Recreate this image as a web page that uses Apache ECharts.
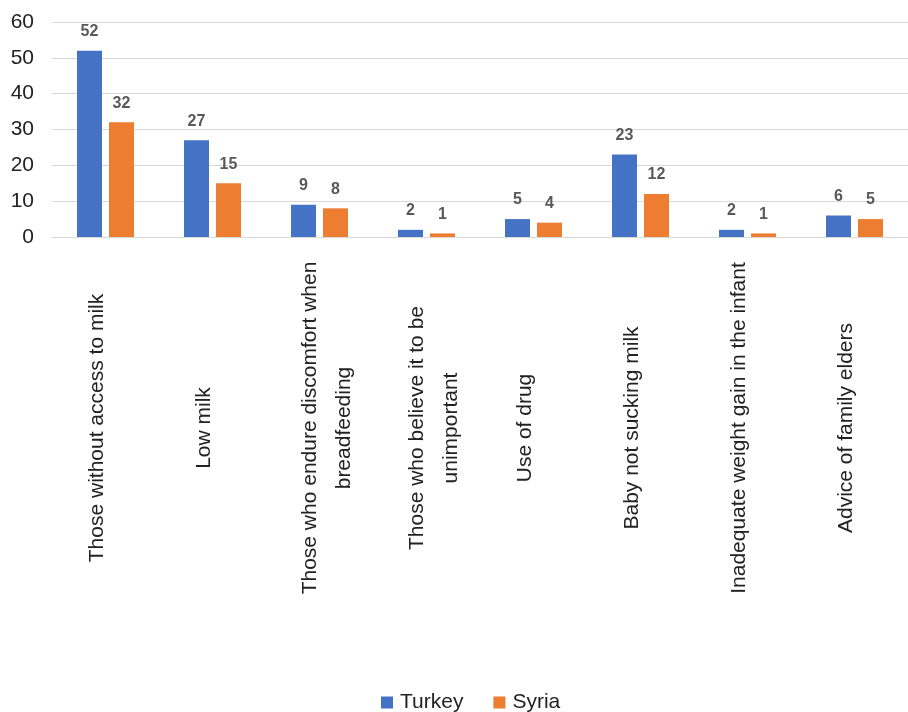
<!DOCTYPE html>
<html>
<head>
<meta charset="utf-8">
<script src="https://cdn.jsdelivr.net/npm/echarts@6/dist/echarts.min.js"></script>
<style>html,body{margin:0;padding:0;background:#fff}#c{width:908px;height:712px}</style>
</head>
<body>
<div id="c"></div>
<script>
const categories = [
  "Those without access to milk",
  "Low milk",
  "Those who endure discomfort when\nbreadfeeding",
  "Those who believe it to be\nunimportant",
  "Use of drug",
  "Baby not sucking milk",
  "Inadequate weight gain in the infant",
  "Advice of family elders"
];
const turkey = [52, 27, 9, 2, 5, 23, 2, 6];
const syria = [32, 15, 8, 1, 4, 12, 1, 5];
const yTicks = [0, 10, 20, 30, 40, 50, 60];

const chart = echarts.init(document.getElementById('c'), null, {renderer: 'canvas'});
const font = 'Liberation Sans, Arial, sans-serif';
const dataLabel = {
  show: true, position: 'top', distance: 11,
  color: '#595959', fontSize: 16, fontWeight: 'bold', fontFamily: font
};
chart.setOption({
  animation: false,
  textStyle: {fontFamily: font},
  grid: {left: 52, right: -8, top: 22, bottom: 475},
  legend: {
    data: ['Turkey', 'Syria'], left: 376, bottom: -6,
    itemWidth: 12, itemHeight: 12, itemGap: 30, icon: 'rect',
    textStyle: {fontSize: 21, color: '#222', fontFamily: font, padding: [0, 0, 0, 2]}
  },
  xAxis: {
    type: 'category', data: categories,
    axisLine: {show: true, lineStyle: {color: '#d9d9d9', width: 1}},
    axisTick: {show: false},
    axisLabel: {
      interval: 0, rotate: 90, align: 'center', margin: 191,
      fontSize: 21, color: '#222', fontFamily: font, lineHeight: 34,
      padding: [16, 0, 0, 0],
      formatter: function (v) {
        if (v.indexOf('\n') < 0) return '{s|' + v + '}';
        return v.split('\n').map(function (l) { return '{m|' + l + '}'; }).join('\n');
      },
      rich: {
        s: {fontSize: 21, color: '#222', fontFamily: font, padding: [0, 0, 33, 0]},
        m: {fontSize: 21, color: '#222', fontFamily: font, lineHeight: 34}
      }
    }
  },
  yAxis: {
    type: 'value', min: yTicks[0], max: yTicks[yTicks.length - 1], interval: 10,
    axisLine: {show: false}, axisTick: {show: false},
    axisLabel: {fontSize: 21, color: '#222', fontFamily: font, margin: 18},
    splitLine: {lineStyle: {color: '#d9d9d9', width: 1}}
  },
  series: [
    {name: 'Turkey', type: 'bar', data: turkey, barWidth: 25, barGap: '28%',
     itemStyle: {color: '#4472C4'}, label: dataLabel},
    {name: 'Syria', type: 'bar', data: syria, barWidth: 25,
     itemStyle: {color: '#ED7D31'}, label: dataLabel}
  ]
});
</script>
</body>
</html>
